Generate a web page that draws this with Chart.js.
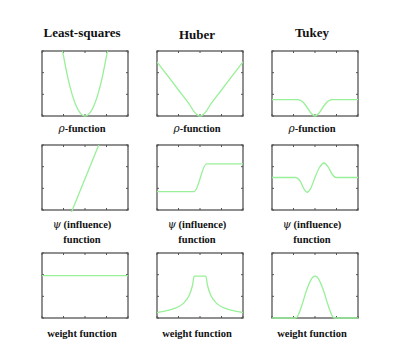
<!DOCTYPE html>
<html lang="en">
<head>
  <meta charset="utf-8">
  <title>Robust loss functions</title>
  <script src="https://cdn.jsdelivr.net/npm/chart.js@4.4.1/dist/chart.umd.min.js"></script>
  <style>
    body { margin: 0; background: #fff; }
    #wrap { position: relative; width: 400px; height: 353px; }
    canvas { position: absolute; }
    .txt {
      position: absolute;
      transform: translate(-50%, -50%);
      font-family: "Liberation Serif", "DejaVu Serif", serif;
      font-weight: bold;
      white-space: nowrap;
      color: #111;
    }
    .title { font-size: 13px; }
    .lab { font-size: 10.5px; }
    .gr { font-family: "DejaVu Serif", serif; font-style: italic; font-weight: normal; }
  </style>
</head>
<body>
  <div id="wrap"></div>

  <script>
    // tick positions (same for every panel)
    const xTicks = [-2, -1, 0, 1, 2];
    const yTicks = [0, 1, 2, 3];

    const colTitles = ['Least-squares', 'Huber', 'Tukey'];
    // [greek symbol, rest of text] for each label line
    const rowLabels = [[['\u03c1', '-function']], [['\u03c8', ' (influence)'], ['', 'function']], [['', 'weight function']]];

    // row 1 : rho
    const lsRhoX = [-1.1, -1.0, -0.8, -0.6, -0.4, -0.2, 0, 0.2, 0.4, 0.6, 0.8, 1.0, 1.1];
    const lsRhoY = [3.35, 2.77, 1.77, 1.0, 0.44, 0.11, 0, 0.11, 0.44, 1.0, 1.77, 2.77, 3.35];
    const hubRhoX = [-2, -1.5, -1, -0.5, -0.25, 0, 0.25, 0.5, 1, 1.5, 2];
    const hubRhoY = [2.5, 1.85, 1.2, 0.55, 0.17, 0, 0.17, 0.55, 1.2, 1.85, 2.5];
    const tukRhoX = [-2, -0.8, -0.6, -0.4, -0.2, 0, 0.2, 0.4, 0.6, 0.8, 2];
    const tukRhoY = [0.76, 0.76, 0.68, 0.45, 0.15, 0, 0.15, 0.45, 0.68, 0.76, 0.76];

    // row 2 : psi
    const lsPsiX = [-0.7, 0.72];
    const lsPsiY = [-0.27, 3.2];
    const hubPsiX = [-2, -0.27, 0.3, 2];
    const hubPsiY = [0.85, 0.85, 2.13, 2.13];
    const tukPsiX = [-2, -0.9, -0.7, -0.5, -0.37, -0.2, 0, 0.2, 0.42, 0.6, 0.8, 0.98, 2];
    const tukPsiY = [1.5, 1.5, 1.35, 0.95, 0.82, 1.0, 1.5, 1.95, 2.17, 2.0, 1.65, 1.5, 1.5];

    // row 3 : weight
    const lsWX = [-2, 2];
    const lsWY = [1.96, 1.96];
    const hubWX = [-2, -1.5, -1, -0.75, -0.5, -0.35, -0.27, 0.27, 0.35, 0.5, 0.75, 1, 1.5, 2];
    const hubWY = [0.25, 0.35, 0.52, 0.7, 1.05, 1.5, 1.93, 1.93, 1.5, 1.05, 0.7, 0.52, 0.35, 0.25];
    const tukWX = [-2, -0.91, -0.8, -0.6, -0.4, -0.15, 0, 0.15, 0.4, 0.6, 0.8, 0.91, 2];
    const tukWY = [0, 0, 0.1, 0.62, 1.26, 1.83, 1.93, 1.83, 1.26, 0.62, 0.1, 0, 0];

    const panels = [
      [[lsRhoX, lsRhoY], [hubRhoX, hubRhoY], [tukRhoX, tukRhoY]],
      [[lsPsiX, lsPsiY], [hubPsiX, hubPsiY], [tukPsiX, tukPsiY]],
      [[lsWX, lsWY], [hubWX, hubWY], [tukWX, tukWY]]
    ];

    // layout of the boxes (px)
    const colLeft = [42, 157, 272];
    const rowTop = [51, 145, 253];
    const boxW = 86, boxH = 65, pad = 4;
    const titleY = [33, 35, 33];
    const labelY = [[128], [224, 239], [333]];

    // frame + small inward ticks
    const framePlugin = {
      id: 'frame',
      beforeDatasetsDraw(chart) {
        const a = chart.chartArea, ctx = chart.ctx;
        const xs = chart.scales.x, ys = chart.scales.y;
        ctx.save();
        ctx.strokeStyle = '#555';
        ctx.lineWidth = 1.3;
        ctx.strokeRect(a.left, a.top, a.right - a.left, a.bottom - a.top);
        ctx.lineWidth = 1;
        ctx.beginPath();
        xTicks.forEach(v => {
          const px = xs.getPixelForValue(v);
          ctx.moveTo(px, a.bottom); ctx.lineTo(px, a.bottom - 2);
          ctx.moveTo(px, a.top); ctx.lineTo(px, a.top + 2);
        });
        yTicks.forEach(v => {
          const py = ys.getPixelForValue(v);
          ctx.moveTo(a.left, py); ctx.lineTo(a.left + 2, py);
          ctx.moveTo(a.right, py); ctx.lineTo(a.right - 2, py);
        });
        ctx.stroke();
        ctx.restore();
      }
    };

    const wrap = document.getElementById('wrap');

    function addText(cls, parts, x, y) {
      const d = document.createElement('div');
      d.className = 'txt ' + cls;
      if (parts[0]) {
        const g = document.createElement('span');
        g.className = 'gr';
        g.textContent = parts[0];
        d.appendChild(g);
      }
      d.appendChild(document.createTextNode(parts[1]));
      d.style.left = x + 'px';
      d.style.top = y + 'px';
      wrap.appendChild(d);
    }

    for (let c = 0; c < 3; c++) {
      const cx = colLeft[c] + boxW / 2 - 3;
      addText('title', ['', colTitles[c]], cx, titleY[c]);
      for (let r = 0; r < 3; r++) {
        const cv = document.createElement('canvas');
        cv.width = boxW + 2 * pad;
        cv.height = boxH + 2 * pad;
        cv.style.left = (colLeft[c] - pad) + 'px';
        cv.style.top = (rowTop[r] - pad) + 'px';
        wrap.appendChild(cv);

        const xs = panels[r][c][0], ys = panels[r][c][1];
        new Chart(cv, {
          type: 'scatter',
          data: {
            datasets: [{
              data: xs.map((x, i) => ({ x: x, y: ys[i] })),
              showLine: true,
              borderColor: '#98f098',
              borderWidth: 1.3,
              pointRadius: 0,
              cubicInterpolationMode: 'monotone',
              clip: { left: 0, top: 0, right: 0, bottom: 2 }
            }]
          },
          options: {
            responsive: false,
            animation: false,
            layout: { padding: pad },
            plugins: { legend: { display: false }, tooltip: { enabled: false } },
            scales: {
              x: { type: 'linear', min: -2, max: 2, display: false },
              y: { type: 'linear', min: 0, max: 3, display: false }
            }
          },
          plugins: [framePlugin]
        });

        rowLabels[r].forEach((t, k) => addText('lab', t, cx, labelY[r][k]));
      }
    }
  </script>
</body>
</html>
